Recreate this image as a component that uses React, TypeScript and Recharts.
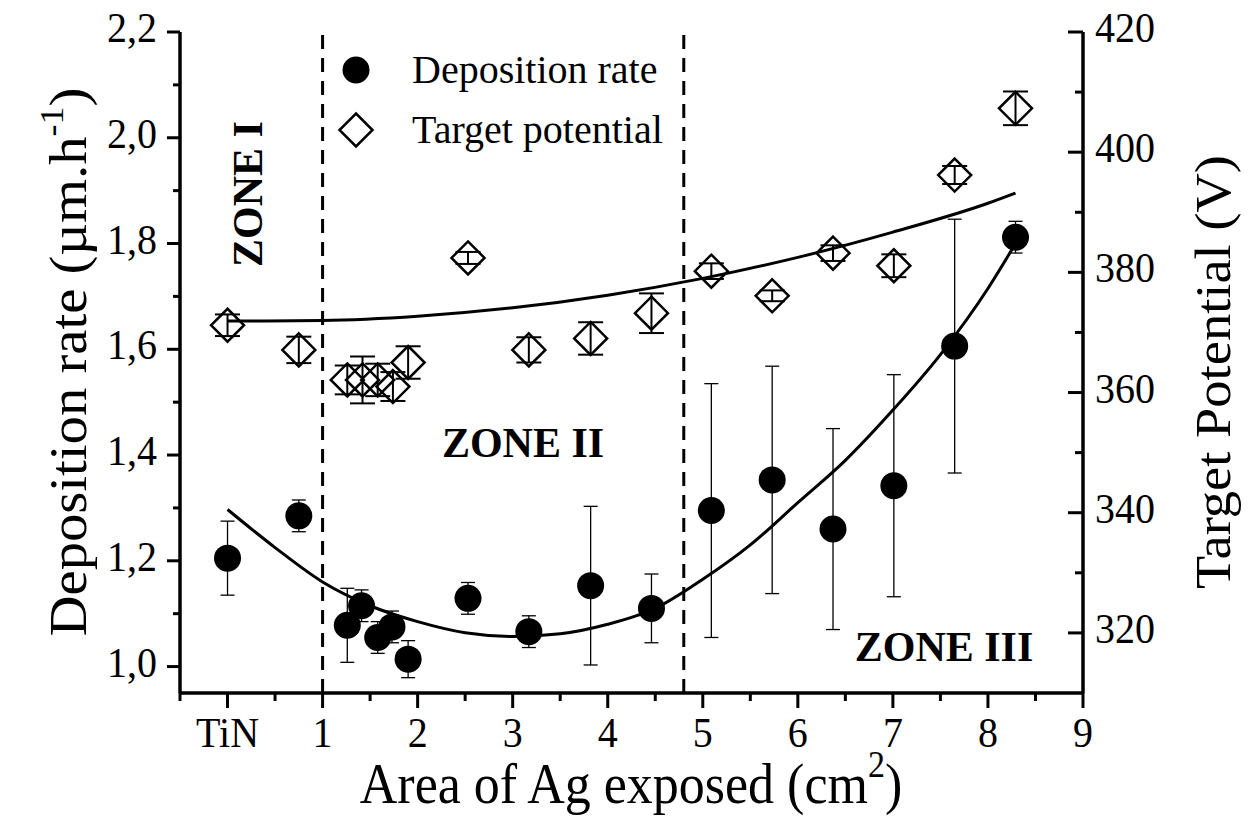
import React from "react";
import {
  ComposedChart,
  Scatter,
  Line,
  XAxis,
  YAxis,
  ErrorBar,
  ReferenceLine,
} from "recharts";

const W = 1253;
const H = 827;
const LEFT = 180;
const RIGHT = 1083;
const TOP = 32;
const BOTTOM = 693;
const FONT = "Liberation Serif";
const txt = { fontFamily: FONT, fill: "#000" };

// Deposition rate (left axis)
const depX = [0, 0.75, 1.26, 1.41, 1.58, 1.73, 1.9, 2.53, 3.17, 3.82, 4.46, 5.09, 5.73, 6.37, 7.01, 7.65, 8.29];
const depRate = [1.205, 1.285, 1.078, 1.115, 1.055, 1.075, 1.014, 1.129, 1.066, 1.153, 1.11, 1.295, 1.353, 1.26, 1.342, 1.606, 1.812];
const depErr = [0.07, 0.03, 0.07, 0.03, 0.03, 0.03, 0.035, 0.03, 0.03, 0.15, 0.065, 0.24, 0.215, 0.19, 0.21, 0.24, 0.03];

// Target potential (right axis)
const potX = [0, 0.75, 1.26, 1.42, 1.58, 1.74, 1.9, 2.53, 3.17, 3.82, 4.46, 5.09, 5.73, 6.37, 7.01, 7.65, 8.29];
const potV = [371.2, 367.1, 362.1, 362.1, 362.1, 361.0, 365.0, 382.4, 367.1, 369.0, 373.2, 380.2, 376.1, 383.2, 381.1, 396.2, 407.3];
const potErr = [1.8, 2.2, 2.4, 3.9, 2.7, 2.4, 2.7, 1.0, 2.1, 2.7, 3.3, 1.3, 0.9, 1.3, 1.9, 1.5, 2.8];

// fitted curves
const depFitX = [0, 0.5, 1, 1.5, 2, 2.5, 3, 3.5, 4, 4.5, 5, 5.5, 6, 6.5, 7, 7.5, 8, 8.29];
const depFitY = [1.297, 1.225, 1.16, 1.115, 1.085, 1.064, 1.057, 1.062, 1.08, 1.11, 1.165, 1.23, 1.31, 1.39, 1.485, 1.59, 1.715, 1.8];
const potFitX = [0, 1, 2, 3, 4, 5, 6, 7, 8, 8.29];
const potFitY = [371.9, 372.0, 372.7, 374.1, 376.2, 379.0, 382.5, 386.7, 391.5, 393.2];

const xTicks = [-0.5, 0, 0.5, 1, 1.5, 2, 2.5, 3, 3.5, 4, 4.5, 5, 5.5, 6, 6.5, 7, 7.5, 8, 8.5, 9];
const leftTicks = [1.0, 1.1, 1.2, 1.3, 1.4, 1.5, 1.6, 1.7, 1.8, 1.9, 2.0, 2.1, 2.2];
const rightTicks = [320, 330, 340, 350, 360, 370, 380, 390, 400, 410, 420];

const depData = depX.map((x, i) => ({ x, rate: depRate[i], err: depErr[i] }));
const potData = potX.map((x, i) => ({ x, pot: potV[i], err: potErr[i] }));
const depFit = depFitX.map((x, i) => ({ x, rate: depFitY[i] }));
const potFit = potFitX.map((x, i) => ({ x, pot: potFitY[i] }));

// tall-ish tick label, the original text is slightly stretched vertically
function Label(props: any) {
  const { x, y, anchor, children } = props;
  return (
    <text
      transform={`translate(${x},${y}) scale(1,1.08)`}
      textAnchor={anchor}
      fontSize={40}
      fontFamily={FONT}
      style={txt}
    >
      {children}
    </text>
  );
}

function BottomTick(props: any) {
  const { x, payload } = props;
  const v = payload.value;
  const major = Number.isInteger(v);
  return (
    <g>
      <line x1={x} x2={x} y1={BOTTOM} y2={BOTTOM + (major ? 15 : 8)} stroke="#000" strokeWidth={3} />
      {major && (
        <Label x={x} y={BOTTOM + 54} anchor="middle">
          {v === 0 ? "TiN" : v}
        </Label>
      )}
    </g>
  );
}

function TopTick(props: any) {
  const { x } = props;
  return <line x1={x} x2={x} y1={TOP} y2={TOP - 4} stroke="#000" strokeWidth={2.5} />;
}

function LeftTick(props: any) {
  const { y, payload } = props;
  const v = payload.value;
  const major = Math.round(v * 10) % 2 === 0;
  return (
    <g>
      <line x1={LEFT} x2={LEFT - (major ? 13 : 7)} y1={y} y2={y} stroke="#000" strokeWidth={3} />
      {major && (
        <Label x={157} y={y + 10} anchor="end">
          {v.toFixed(1).replace(".", ",")}
        </Label>
      )}
    </g>
  );
}

function RightTick(props: any) {
  const { y, payload } = props;
  const v = payload.value;
  const major = v % 20 === 0;
  return (
    <g>
      <line x1={RIGHT} x2={RIGHT - (major ? 15 : 8)} y1={y} y2={y} stroke="#000" strokeWidth={3} />
      {major && (
        <Label x={1095} y={y + 10} anchor="start">
          {v}
        </Label>
      )}
    </g>
  );
}

const Dot = (p: any) => <circle cx={p.cx} cy={p.cy} r={13.5} fill="#000" />;

const Diamond = (p: any) => {
  const s = 16.5;
  return (
    <path
      d={`M${p.cx},${p.cy - s} L${p.cx + s},${p.cy} L${p.cx},${p.cy + s} L${p.cx - s},${p.cy} Z`}
      fill="none"
      stroke="#000"
      strokeWidth={2.5}
    />
  );
};

export default function App() {
  const axisLine = { stroke: "#000", strokeWidth: 3.5 };
  return (
    <div style={{ position: "absolute", left: 0, top: 0, width: W, height: H, background: "#fff" }}>
      <ComposedChart
        width={W}
        height={H}
        margin={{ top: TOP, right: 0, bottom: 0, left: 0 }}
        style={{ fontFamily: FONT }}
      >
        <XAxis
          xAxisId="b"
          dataKey="x"
          type="number"
          domain={[-0.5, 9]}
          ticks={xTicks}
          interval={0}
          tick={(p: any) => <BottomTick {...p} />}
          tickLine={false}
          axisLine={axisLine}
          height={H - BOTTOM}
          allowDataOverflow
        />
        <XAxis
          xAxisId="t"
          orientation="top"
          dataKey="x"
          type="number"
          domain={[-0.5, 9]}
          ticks={xTicks}
          interval={0}
          tick={(p: any) => <TopTick {...p} />}
          tickLine={false}
          axisLine={axisLine}
          height={0}
          allowDataOverflow
        />
        <YAxis
          yAxisId="l"
          dataKey="rate"
          type="number"
          domain={[0.95, 2.2]}
          ticks={leftTicks}
          interval={0}
          tick={(p: any) => <LeftTick {...p} />}
          tickLine={false}
          axisLine={axisLine}
          width={LEFT}
          allowDataOverflow
        />
        <YAxis
          yAxisId="r"
          orientation="right"
          dataKey="pot"
          type="number"
          domain={[310, 420]}
          ticks={rightTicks}
          interval={0}
          tick={(p: any) => <RightTick {...p} />}
          tickLine={false}
          axisLine={axisLine}
          width={W - RIGHT}
          allowDataOverflow
        />

        <ReferenceLine xAxisId="b" yAxisId="l" x={1} stroke="#000" strokeWidth={3} strokeDasharray="14 9" />
        <ReferenceLine xAxisId="b" yAxisId="l" x={4.8} stroke="#000" strokeWidth={3} strokeDasharray="14 9" />

        <Line
          xAxisId="b"
          yAxisId="r"
          data={potFit}
          dataKey="pot"
          type="monotone"
          stroke="#000"
          strokeWidth={3}
          dot={false}
          isAnimationActive={false}
        />
        <Line
          xAxisId="b"
          yAxisId="l"
          data={depFit}
          dataKey="rate"
          type="monotone"
          stroke="#000"
          strokeWidth={3}
          dot={false}
          isAnimationActive={false}
        />

        <Scatter xAxisId="b" yAxisId="r" data={potData} dataKey="pot" shape={Diamond} isAnimationActive={false}>
          <ErrorBar dataKey="err" direction="y" width={12.5} stroke="#000" strokeWidth={2} isAnimationActive={false} />
        </Scatter>
        <Scatter xAxisId="b" yAxisId="l" data={depData} dataKey="rate" shape={Dot} isAnimationActive={false}>
          <ErrorBar dataKey="err" direction="y" width={7} stroke="#000" strokeWidth={1.3} isAnimationActive={false} />
        </Scatter>
      </ComposedChart>

      <svg
        width={W}
        height={H}
        style={{ position: "absolute", left: 0, top: 0, pointerEvents: "none", fontFamily: FONT }}
      >
        {/* legend */}
        <circle cx={356} cy={70} r={13.5} fill="#000" />
        <text x={412} y={83} fontSize={40} style={txt}>Deposition rate</text>
        <path d="M356,113.5 L372.5,130 L356,146.5 L339.5,130 Z" fill="none" stroke="#000" strokeWidth={2.5} />
        <text x={412} y={143} fontSize={40} style={txt}>Target potential</text>

        {/* zones */}
        <text transform="translate(262,194) rotate(-90)" textAnchor="middle" fontSize={42} fontWeight="bold" style={txt}>
          ZONE I
        </text>
        <text x={523} y={457} textAnchor="middle" fontSize={42} fontWeight="bold" style={txt}>ZONE II</text>
        <text x={944} y={661} textAnchor="middle" fontSize={42} fontWeight="bold" style={txt}>ZONE III</text>

        {/* axis titles */}
        <text transform="translate(86,362) rotate(-90) scale(1.09,1)" textAnchor="middle" fontSize={52} style={txt}>
          Deposition rate (µm.h<tspan dy={-23} fontSize={33}>-1</tspan>
          <tspan dy={23}>)</tspan>
        </text>
        <text transform="translate(1230,372) rotate(-90) scale(1.09,1)" textAnchor="middle" fontSize={50} style={txt}>
          Target Potential (V)
        </text>
        <text transform="translate(631,803) scale(1,1.09)" textAnchor="middle" fontSize={52} style={txt}>
          Area of Ag exposed (cm<tspan dy={-24} fontSize={34}>2</tspan>
          <tspan dy={24}>)</tspan>
        </text>
      </svg>
    </div>
  );
}
